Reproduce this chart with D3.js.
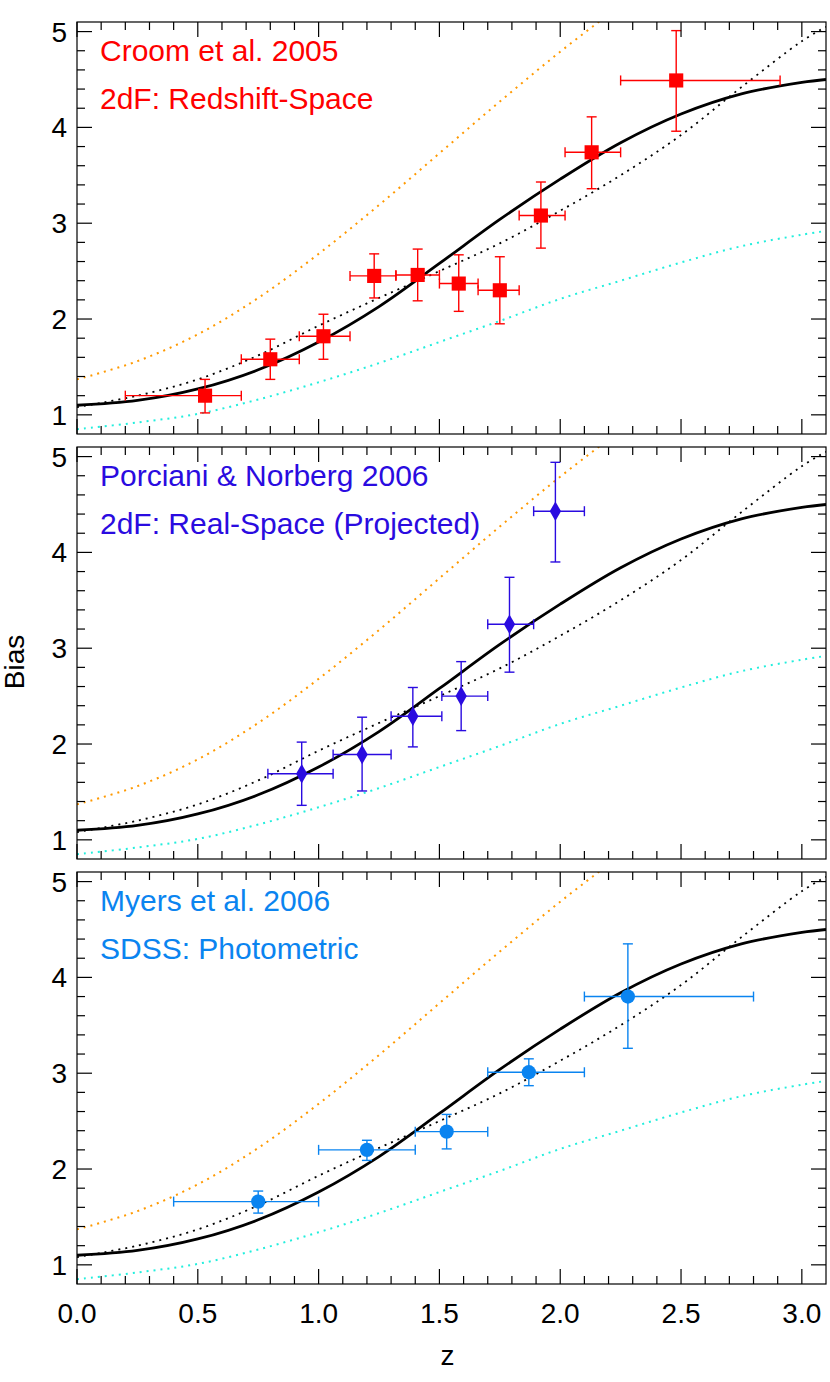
<!DOCTYPE html>
<html><head><meta charset="utf-8">
<script src="https://cdn.jsdelivr.net/npm/d3@7"></script>
<style>body{margin:0;background:#fff}text{font-family:"Liberation Sans",Arial,sans-serif}</style>
</head><body><svg id="chart" width="830" height="1382"></svg>
<script>
// model curves
var curveZ      = [0, 0.25, 0.5, 0.75, 1.0, 1.25, 1.5, 1.75, 2.0, 2.25, 2.5, 2.75, 3.0, 3.1];
var solidBias   = [1.10, 1.15, 1.27, 1.47, 1.76, 2.13, 2.58, 3.04, 3.46, 3.84, 4.14, 4.35, 4.47, 4.50];
var dottedBias  = [1.08, 1.20, 1.37, 1.62, 1.93, 2.22, 2.50, 2.79, 3.13, 3.50, 3.92, 4.42, 4.90, 5.05];
var orangeBias  = [1.37, 1.56, 1.84, 2.22, 2.68, 3.19, 3.73, 4.27, 4.79, 5.28, 5.8, 6.3, 6.8, 7.0];
var cyanBias    = [0.85, 0.92, 1.01, 1.16, 1.34, 1.54, 1.76, 1.98, 2.21, 2.40, 2.59, 2.76, 2.88, 2.92];

// Croom et al. 2005: z, bias, zlo, zhi, blo, bhi
var croom = [
  [0.53,1.20,0.20,0.68,1.02,1.37],[0.80,1.58,0.68,0.92,1.37,1.79],[1.02,1.82,0.92,1.13,1.58,2.05],
  [1.23,2.45,1.13,1.32,2.22,2.68],[1.41,2.46,1.32,1.50,2.19,2.73],[1.58,2.37,1.50,1.66,2.08,2.67],
  [1.75,2.30,1.66,1.83,1.95,2.65],[1.92,3.08,1.83,2.02,2.74,3.43],[2.13,3.74,2.02,2.25,3.36,4.11],
  [2.48,4.49,2.25,2.91,3.96,5.01]];
var porciani = [
  [0.93,1.69,0.79,1.06,1.36,2.02],[1.18,1.89,1.06,1.30,1.51,2.28],[1.39,2.29,1.30,1.51,1.97,2.59],
  [1.59,2.50,1.51,1.70,2.14,2.86],[1.79,3.25,1.70,1.89,2.75,3.74],[1.98,4.43,1.89,2.10,3.90,4.94]];
var myers = [
  [0.75,1.66,0.40,1.00,1.54,1.77],[1.20,2.20,1.00,1.40,2.09,2.30],[1.53,2.39,1.40,1.70,2.21,2.57],
  [1.87,3.01,1.70,2.10,2.87,3.15],[2.28,3.80,2.10,2.80,3.26,4.35]];

var panels = [
  {data: croom, color: "#ff0000", sym: d3.symbolSquare, size: 200, labels: ["Croom et al. 2005", "2dF: Redshift-Space"]},
  {data: porciani, color: "#2a0be0", sym: d3.symbolDiamond, size: 110, labels: ["Porciani & Norberg 2006", "2dF: Real-Space (Projected)"]},
  {data: myers, color: "#0a84f0", sym: d3.symbolCircle, size: 160, labels: ["Myers et al. 2006", "SDSS: Photometric"]}
];

var svg = d3.select("#chart");
var left = 77, right = 826, ph = 412;
var tops = [22, 447, 872];

var x = d3.scaleLinear().domain([0, 3.1]).range([left, right]);

panels.forEach(function(p, i) {
  var top = tops[i];
  var y = d3.scaleLinear().domain([0.8, 5.1]).range([top + ph, top]);
  var g = svg.append("g");
  var clipId = "clip" + i;
  g.append("clipPath").attr("id", clipId).append("rect")
    .attr("x", left).attr("y", top).attr("width", right - left).attr("height", ph);

  var plot = g.append("g").attr("clip-path", "url(#" + clipId + ")");
  var line = function(vals) {
    return d3.line().x(function(d, k) { return x(curveZ[k]); }).y(function(d) { return y(d); })
      .curve(d3.curveCatmullRom.alpha(0.5))(vals);
  };
  plot.append("path").attr("d", line(orangeBias)).attr("fill", "none").attr("stroke", "#ff9900")
    .attr("stroke-width", 2).attr("stroke-dasharray", "2,5");
  plot.append("path").attr("d", line(cyanBias)).attr("fill", "none").attr("stroke", "#22eedd")
    .attr("stroke-width", 2).attr("stroke-dasharray", "2,5");
  plot.append("path").attr("d", line(dottedBias)).attr("fill", "none").attr("stroke", "#000")
    .attr("stroke-width", 1.8).attr("stroke-dasharray", "2,5");
  plot.append("path").attr("d", line(solidBias)).attr("fill", "none").attr("stroke", "#000")
    .attr("stroke-width", 2.8);

  // error bars
  var cap = 5;
  p.data.forEach(function(d) {
    var eb = plot.append("g").attr("stroke", p.color).attr("stroke-width", 1.4);
    eb.append("line").attr("x1", x(d[2])).attr("x2", x(d[3])).attr("y1", y(d[1])).attr("y2", y(d[1]));
    eb.append("line").attr("x1", x(d[0])).attr("x2", x(d[0])).attr("y1", y(d[4])).attr("y2", y(d[5]));
    eb.append("line").attr("x1", x(d[2])).attr("x2", x(d[2])).attr("y1", y(d[1]) - cap).attr("y2", y(d[1]) + cap);
    eb.append("line").attr("x1", x(d[3])).attr("x2", x(d[3])).attr("y1", y(d[1]) - cap).attr("y2", y(d[1]) + cap);
    eb.append("line").attr("x1", x(d[0]) - cap).attr("x2", x(d[0]) + cap).attr("y1", y(d[4])).attr("y2", y(d[4]));
    eb.append("line").attr("x1", x(d[0]) - cap).attr("x2", x(d[0]) + cap).attr("y1", y(d[5])).attr("y2", y(d[5]));
    plot.append("path").attr("d", d3.symbol().type(p.sym).size(p.size)())
      .attr("transform", "translate(" + x(d[0]) + "," + y(d[1]) + ")").attr("fill", p.color);
  });

  // frame and ticks (inward, all four sides)
  g.append("rect").attr("x", left).attr("y", top).attr("width", right - left).attr("height", ph)
    .attr("fill", "none").attr("stroke", "#000").attr("stroke-width", 1.2);
  var tk = g.append("g").attr("stroke", "#000").attr("stroke-width", 1.2);
  d3.range(0, 31).forEach(function(k) {
    var v = k / 10, len = (k % 5 === 0) ? 15 : 8;
    tk.append("line").attr("x1", x(v)).attr("x2", x(v)).attr("y1", top + ph).attr("y2", top + ph - len);
    tk.append("line").attr("x1", x(v)).attr("x2", x(v)).attr("y1", top).attr("y2", top + len);
  });
  d3.range(5, 26).forEach(function(k) {
    var v = k / 5, len = (k % 5 === 0) ? 15 : 8;
    tk.append("line").attr("x1", left).attr("x2", left + len).attr("y1", y(v)).attr("y2", y(v));
    tk.append("line").attr("x1", right).attr("x2", right - len).attr("y1", y(v)).attr("y2", y(v));
  });
  [1, 2, 3, 4, 5].forEach(function(v) {
    g.append("text").attr("x", 67).attr("y", y(v)).attr("dy", "0.36em").attr("text-anchor", "end")
      .attr("font-size", 28).text(v);
  });

  p.labels.forEach(function(t, k) {
    g.append("text").attr("x", 100).attr("y", top + 39 + k * 48).attr("fill", p.color)
      .attr("font-size", 30).text(t);
  });

  if (i === 2) {
    [0, 0.5, 1.0, 1.5, 2.0, 2.5, 3.0].forEach(function(v) {
      g.append("text").attr("x", x(v)).attr("y", 1323).attr("text-anchor", "middle")
        .attr("font-size", 28).text(v.toFixed(1));
    });
  }
});

svg.append("text").attr("x", (left + right) / 2 - 4).attr("y", 1365).attr("text-anchor", "middle")
  .attr("font-size", 28).text("z");
svg.append("text").attr("transform", "translate(24,662) rotate(-90)").attr("text-anchor", "middle")
  .attr("font-size", 28).text("Bias");
</script></body></html>
